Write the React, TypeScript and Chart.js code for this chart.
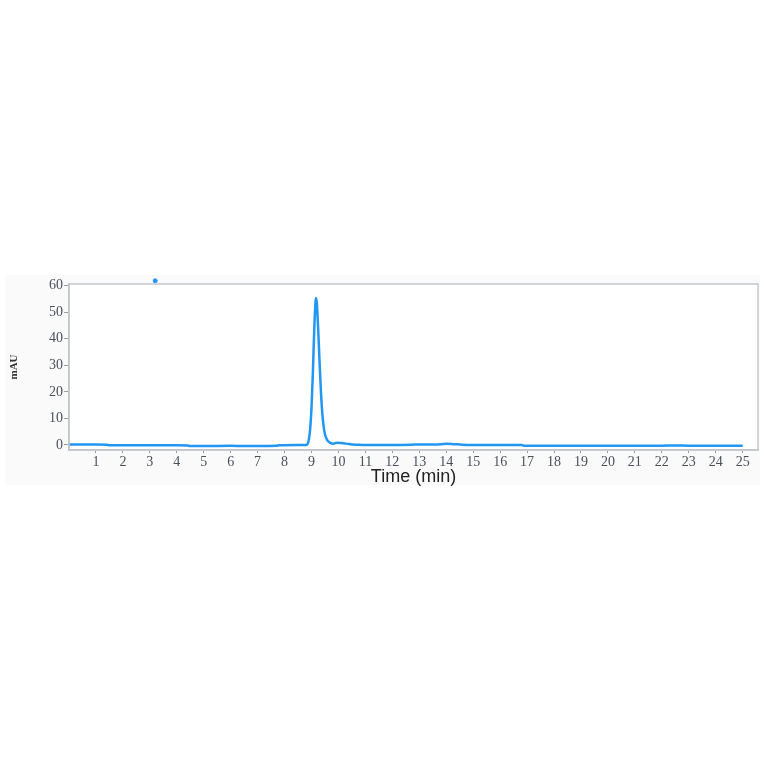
import React, { useEffect, useRef } from "react";
import { Chart, registerables } from "chart.js";

Chart.register(...registerables);

// Retention time (min) and absorbance (mAU)
const times: number[] = [
  0, 0.5, 1.0, 1.4, 1.5, 2, 3, 4, 4.4, 4.5, 5, 6, 6.5, 7, 7.7, 7.8, 8.5, 8.8,
  8.85, 8.9, 8.95, 9.0, 9.05, 9.1, 9.15, 9.17, 9.2, 9.25, 9.3, 9.35, 9.4, 9.45,
  9.5, 9.55, 9.6, 9.7, 9.8, 9.9, 10.0, 10.1, 10.3, 10.5, 10.7, 11, 12, 12.7, 13,
  13.5, 13.8, 14, 14.3, 14.6, 15, 16, 16.8, 16.9, 18, 20, 22, 22.5, 23, 25,
];
const absorbance: number[] = [
  0.2, 0.2, 0.2, 0.1, -0.1, -0.1, -0.1, -0.1, -0.2, -0.4, -0.4, -0.3, -0.4, -0.4,
  -0.3, -0.1, 0, 0, 0.3, 2, 6, 14, 27, 43, 54, 55.3, 53, 43, 31, 20, 12, 7, 4,
  2.5, 1.6, 0.8, 0.5, 0.7, 0.8, 0.7, 0.5, 0.2, 0.1, 0, 0, 0.1, 0.2, 0.2, 0.3,
  0.5, 0.3, 0.1, 0, 0, 0, -0.3, -0.3, -0.3, -0.3, -0.2, -0.3, -0.3,
];
// small marker seen above the plot top
const markerTimes: number[] = [3.2];
const markerValues: number[] = [61.8];

const xTickValues: number[] = Array.from({ length: 25 }, (_, i) => i + 1);
const yTickValues: number[] = [0, 10, 20, 30, 40, 50, 60];

const LINE_COLOR = "#2196f3";

export default function App() {
  const ref = useRef<HTMLCanvasElement | null>(null);

  useEffect(() => {
    document.body.style.margin = "0";
    const canvas = ref.current;
    if (!canvas) return;

    const framePlugin = {
      id: "frame",
      beforeDraw(chart: any) {
        const { ctx, chartArea } = chart;
        ctx.save();
        ctx.fillStyle = "#ffffff";
        ctx.fillRect(0, 0, chart.width, chart.height);
        ctx.fillStyle = "#fafafa";
        ctx.fillRect(5, 275, 755, 210);
        ctx.fillStyle = "#ffffff";
        ctx.fillRect(chartArea.left, chartArea.top, chartArea.right - chartArea.left, chartArea.bottom - chartArea.top);
        ctx.restore();
      },
      afterDatasetsDraw(chart: any) {
        const { ctx, chartArea } = chart;
        ctx.save();
        ctx.strokeStyle = "#c4c7cc";
        ctx.lineWidth = 1.5;
        ctx.strokeRect(chartArea.left, chartArea.top, chartArea.right - chartArea.left, chartArea.bottom - chartArea.top);
        ctx.restore();
      },
    };

    const chart = new Chart(canvas, {
      type: "scatter",
      data: {
        datasets: [
          {
            data: times.map((t, i) => ({ x: t, y: absorbance[i] })),
            showLine: true,
            borderColor: LINE_COLOR,
            borderWidth: 2.5,
            pointRadius: 0,
            cubicInterpolationMode: "monotone",
            fill: false,
          },
          {
            data: markerTimes.map((t, i) => ({ x: t, y: markerValues[i] })),
            showLine: false,
            pointRadius: 2,
            pointBackgroundColor: LINE_COLOR,
            pointBorderColor: LINE_COLOR,
            clip: false as any,
          },
        ],
      },
      options: {
        animation: false,
        responsive: false,
        devicePixelRatio: 1,
        layout: { padding: { top: 284, left: 0, right: 6, bottom: 274 } },
        plugins: { legend: { display: false }, tooltip: { enabled: false } },
        scales: {
          x: {
            type: "linear",
            min: 0,
            max: 25.57,
            afterBuildTicks: (scale: any) => {
              scale.ticks = xTickValues.map((v) => ({ value: v }));
            },
            afterFit: (scale: any) => {
              scale.height = 40;
            },
            grid: { display: true, drawOnChartArea: false, drawTicks: true, tickLength: 3, color: "#9a9a9a" },
            border: { display: true, color: "#b8bcc2", width: 1.5 },
            ticks: {
              autoSkip: false,
              maxRotation: 0,
              padding: 1,
              color: "#4a4f5a",
              font: { family: "'Liberation Serif', 'DejaVu Serif', serif", size: 14 },
            },
            title: {
              display: true,
              text: "Time (min)",
              color: "#222222",
              font: { family: "'Liberation Sans', Arial, sans-serif", size: 18 },
              padding: { top: 0, bottom: 2 },
            },
          },
          y: {
            type: "linear",
            min: -1.9,
            max: 60.6,
            afterBuildTicks: (scale: any) => {
              scale.ticks = yTickValues.map((v) => ({ value: v }));
            },
            afterFit: (scale: any) => {
              scale.width = 69;
            },
            grid: { display: true, drawOnChartArea: false, drawTicks: true, tickLength: 5, color: "#9a9a9a" },
            border: { display: true, color: "#b8bcc2", width: 1.5 },
            ticks: {
              padding: 1,
              color: "#4a4f5a",
              font: { family: "'Liberation Serif', 'DejaVu Serif', serif", size: 14 },
            },
            title: {
              display: true,
              text: "mAU",
              color: "#333333",
              font: { family: "'Liberation Serif', 'DejaVu Serif', serif", size: 11, weight: "bold" },
              padding: { top: 8, bottom: 0 },
            },
          },
        },
      },
      plugins: [framePlugin],
    });

    return () => chart.destroy();
  }, []);

  return (
    <div style={{ width: 764, height: 764 }}>
      <canvas ref={ref} width={764} height={764} style={{ width: 764, height: 764, display: "block" }} />
    </div>
  );
}
